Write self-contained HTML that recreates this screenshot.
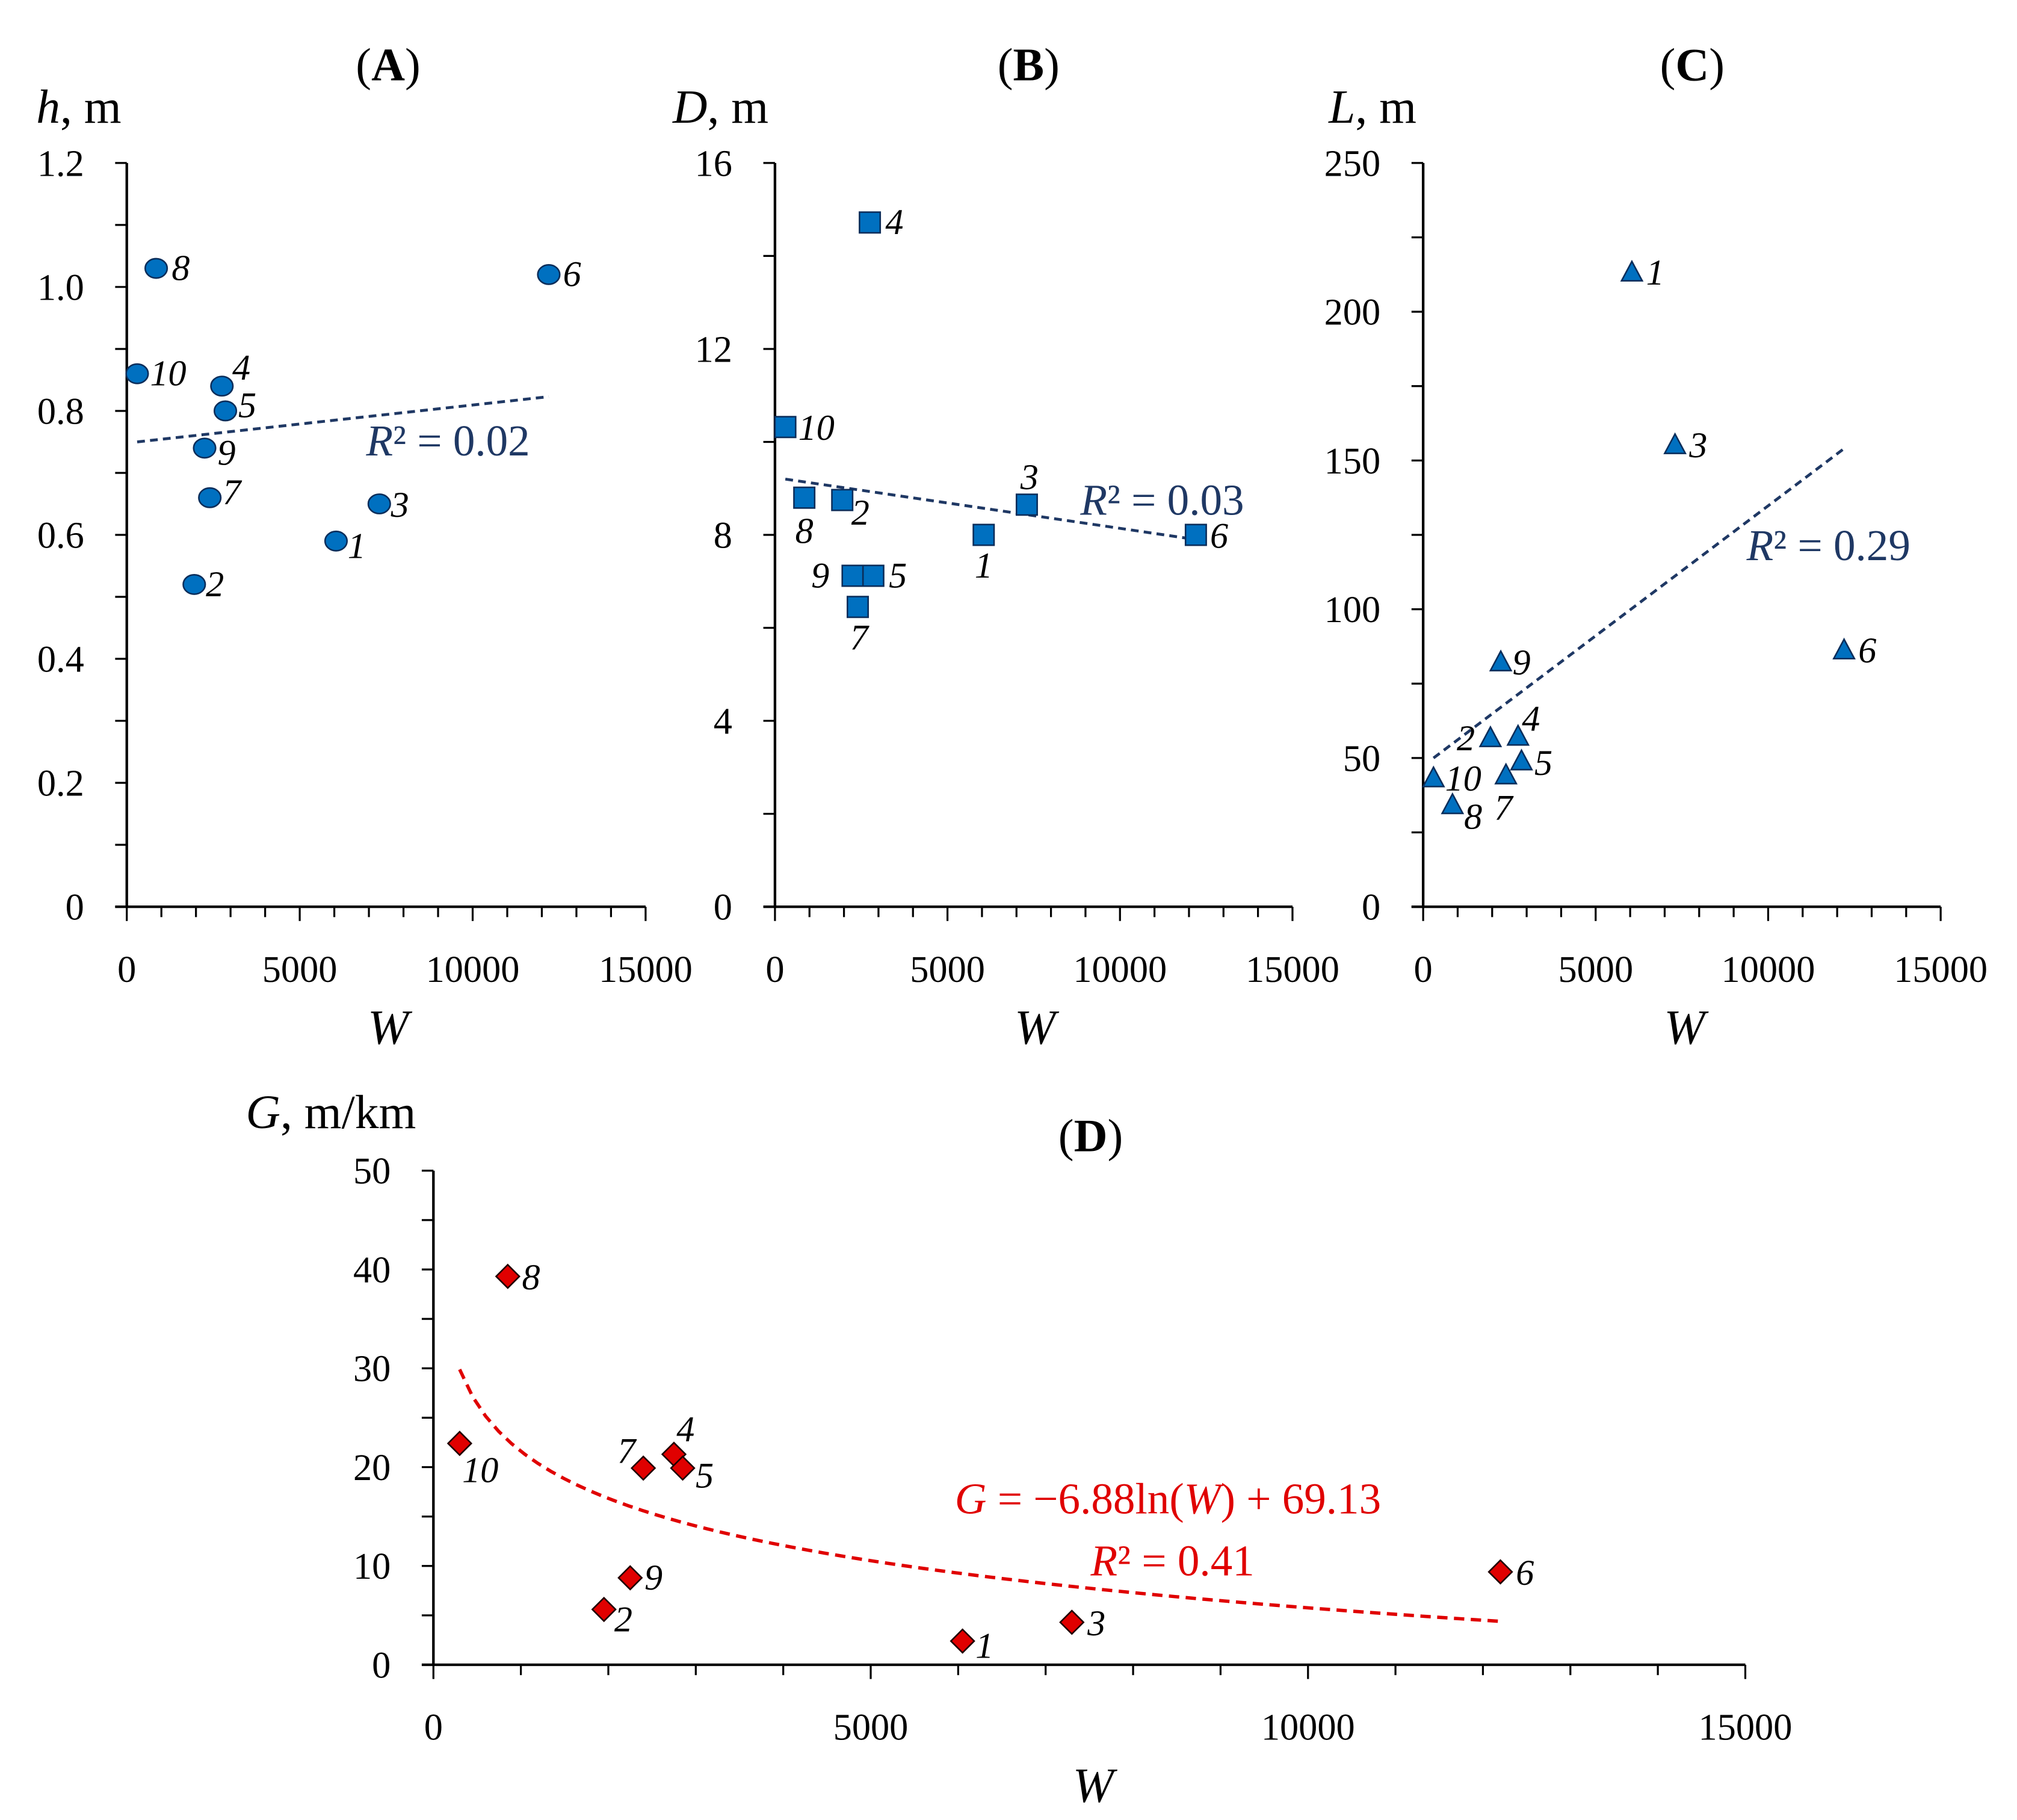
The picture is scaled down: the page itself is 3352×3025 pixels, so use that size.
<!DOCTYPE html>
<html><head><meta charset="utf-8"><style>
html,body{margin:0;padding:0;background:#fff;}
svg{display:block;}
text{font-family:"Liberation Serif",serif;}
</style></head><body>
<svg id="fig" xmlns="http://www.w3.org/2000/svg" width="3352" height="3025" viewBox="0 0 1559 1407" preserveAspectRatio="none">
<rect x="0" y="0" width="1559" height="1407" fill="#fff"/>
</svg>
<script>
// ---- data ----
const pointIds = ["1","2","3","4","5","6","7","8","9","10"];
const wValues = [6050, 1950, 7300, 2750, 2850, 12200, 2400, 850, 2250, 300];
const hValues = [0.59, 0.52, 0.65, 0.84, 0.80, 1.02, 0.66, 1.03, 0.74, 0.86];
const dValues = [8.0, 8.75, 8.65, 14.72, 7.12, 8.0, 6.45, 8.8, 7.12, 10.32];
const lValues = [213, 56.5, 155, 57, 48.7, 86, 44, 34, 82, 43];
const gValues = [2.4, 5.6, 4.3, 21.3, 19.9, 9.4, 19.9, 39.3, 8.8, 22.4];
const hTicks = ["0","0.2","0.4","0.6","0.8","1.0","1.2"];
const dTicks = ["0","4","8","12","16"];
const lTicks = ["0","50","100","150","200","250"];
const gTicks = ["0","10","20","30","40","50"];
const wTicks = ["0","5000","10000","15000"];
const trendA = [0.75, 0.823];   // at W = 300 and 12200
const trendB = [9.2, 7.9];
const trendC = [50, 154];
const trendW = [300, 12200];
const logFit = [-6.88, 69.13];

const NS = "http://www.w3.org/2000/svg";
const svg = document.getElementById("fig");
function el(tag, attrs, parent, txt){
  const e = document.createElementNS(NS, tag);
  for (const k in attrs) e.setAttribute(k, attrs[k]);
  if (txt !== undefined) e.textContent = txt;
  (parent || svg).appendChild(e);
  return e;
}

function panel(cfg){
  const g = el("g", {});
  
  
  const X = v => cfg.x0 + (v / 15000) * (cfg.x1 - cfg.x0);
  const Y = v => cfg.y0 - (v / cfg.ymax) * (cfg.y0 - cfg.y1);
  const ya = el("line", {x1:cfg.x0, y1:cfg.y1, x2:cfg.x0, y2:cfg.y0, stroke:"#000", "stroke-width":2}, g);
  
  
  const xa = el("line", {x1:cfg.x0-9, y1:cfg.y0, x2:cfg.x1, y2:cfg.y0, stroke:"#000", "stroke-width":2}, g);
  
  
  const nMaj = cfg.yTicks.length - 1;
  for (let i = 0; i <= nMaj * 2; i++) {
    const v = cfg.ymax * i / (nMaj * 2);
    el("line", {x1:cfg.x0-9, y1:Y(v), x2:cfg.x0, y2:Y(v), stroke:"#000", "stroke-width":1.5}, g);
  }
  cfg.yTicks.forEach((t, i) => {
    const tx = el("text", {x:cfg.x0-33, y:Y(parseFloat(t))+10, "font-size":29, "text-anchor":"end"}, g, t);
    
    
  });
  for (let v = 0; v <= 15000; v += 1000) {
    const big = v % 5000 === 0;
    el("line", {x1:X(v), y1:cfg.y0, x2:X(v), y2:cfg.y0 + (big ? 11 : 8), stroke:"#000", "stroke-width":1.5}, g);
  }
  wTicks.forEach(t => {
    const tx = el("text", {x:X(parseFloat(t)), y:cfg.y0+58, "font-size":29, "text-anchor":"middle"}, g, t);
    
    
  });
  const tt = el("text", {x:cfg.title[0], y:cfg.title[1], "font-size":36, "font-weight":"bold", "text-anchor":"middle"}, g);
  
  
  el("tspan", {"font-weight":"normal"}, tt, "(");
  el("tspan", {}, tt, cfg.letter);
  el("tspan", {"font-weight":"normal"}, tt, ")");
  const yt = el("text", {x:cfg.ylab[0], y:cfg.ylab[1], "font-size":37}, g);
  
  
  el("tspan", {"font-style":"italic"}, yt, cfg.yvar);
  el("tspan", {}, yt, ", " + cfg.yunit);
  const xt = el("text", {x:cfg.xlab[0], y:cfg.xlab[1], "font-size":38, "font-style":"italic", "text-anchor":"middle"}, g, "W");
  
  
  let d = "";
  if (cfg.trend === "log") {
    for (let i = 0; i <= 80; i++) {
      const w = trendW[0] + (trendW[1]-trendW[0]) * i / 80;
      d += (i ? "L" : "M") + X(w).toFixed(2) + "," + Y(logFit[0]*Math.log(w)+logFit[1]).toFixed(2);
    }
  } else {
    d = "M" + X(trendW[0]) + "," + Y(cfg.trend[0]) + "L" + X(trendW[1]) + "," + Y(cfg.trend[1]);
  }
  const tl = el("path", {d:d, fill:"none", stroke:cfg.trendColor, "stroke-width":cfg.trend==="log"?2.6:2.2, "stroke-dasharray":cfg.trend==="log"?"8,5":"6,4"}, g);
  
  
  cfg.rLabels.forEach(r => {
    const rt = el("text", {x:r[0], y:r[1], "font-size":34, fill:cfg.trendColor}, g);
    
    
    r[2].forEach(p => el("tspan", p[1] ? {"font-style":"italic"} : {}, rt, p[0]));
  });
  cfg.values.forEach((v, i) => {
    const cx = X(wValues[i]), cy = Y(v);
    let m;
    if (cfg.marker === "circle") m = el("ellipse", {cx:cx, cy:cy, rx:8.5, ry:7.5}, g);
    else if (cfg.marker === "square") m = el("rect", {x:cx-8, y:cy-8, width:16, height:16}, g);
    else if (cfg.marker === "triangle") m = el("path", {d:`M${cx},${cy-9}L${cx+8},${cy+6}L${cx-8},${cy+6}Z`}, g);
    else m = el("path", {d:`M${cx},${cy-9}L${cx+9},${cy}L${cx},${cy+9}L${cx-9},${cy}Z`}, g);
    m.setAttribute("fill", cfg.fill);
    m.setAttribute("stroke", cfg.stroke);
    m.setAttribute("stroke-width", 1.2);
    
    
    const off = cfg.offsets[i];
    const lb = el("text", {x:cx+off[0], y:cy+off[1], "font-size":28, "font-style":"italic"}, g, pointIds[i]);
    
    
  });
}

panel({name:"panel-a", letter:"A", x0:98, x1:499, y0:701, y1:126, ymax:1.2, yTicks:hTicks, values:hValues,
  title:[300,62], ylab:[28,95], yvar:"h", yunit:"m", xlab:[300,807], trend:trendA, trendColor:"#1F3864",
  rLabels:[[283,352,[["R",1],["² = 0.02",0]]]], marker:"circle", fill:"#0070C0", stroke:"#0B2D5A",
  offsets:[[9,13],[9,9],[9,10],[8,-5],[10,5],[11,9],[10,5],[12,9],[10,13],[10,9]]});
panel({name:"panel-b", letter:"B", x0:599, x1:999, y0:701, y1:126, ymax:16, yTicks:dTicks, values:dValues,
  title:[795,62], ylab:[520,95], yvar:"D", yunit:"m", xlab:[800,807], trend:trendB, trendColor:"#1F3864",
  rLabels:[[835,398,[["R",1],["² = 0.03",0]]]], marker:"square", fill:"#0070C0", stroke:"#0B2D5A",
  offsets:[[-7,33],[7,19],[-5,-12],[12,9],[12,9],[11,10],[-6,33],[-7,35],[-32,9],[10,10]]});
panel({name:"panel-c", letter:"C", x0:1100, x1:1500, y0:701, y1:126, ymax:250, yTicks:lTicks, values:lValues,
  title:[1308,62], ylab:[1027,95], yvar:"L", yunit:"m", xlab:[1302,807], trend:trendC, trendColor:"#1F3864",
  rLabels:[[1350,433,[["R",1],["² = 0.29",0]]]], marker:"triangle", fill:"#0070C0", stroke:"#0B2D5A",
  offsets:[[11,9],[-26,9],[11,9],[3,-5],[10,10],[11,9],[-9,34],[9,18],[9,9],[9,9]]});
panel({name:"panel-d", letter:"D", x0:335, x1:1349, y0:1287, y1:905, ymax:50, yTicks:gTicks, values:gValues,
  title:[843,890], ylab:[190,872], yvar:"G", yunit:"m/km", xlab:[845,1393], trend:"log", trendColor:"#E00000",
  rLabels:[[738,1170,[["G",1],[" = −6.88ln(",0],["W",1],[") + 69.13",0]]],[843,1218,[["R",1],["² = 0.41",0]]]],
  marker:"diamond", fill:"#E00000", stroke:"#200000",
  offsets:[[10,13],[8,17],[12,10],[2,-10],[10,15],[12,10],[-20,-4],[11,10],[11,9],[2,30]]});
</script>
</body></html>
